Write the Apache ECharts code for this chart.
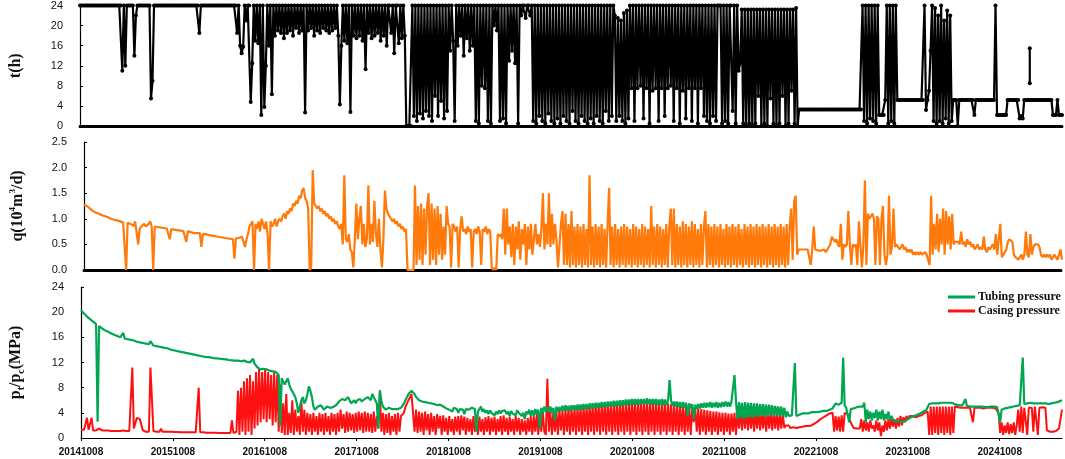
<!DOCTYPE html>
<html><head><meta charset="utf-8">
<script src="https://cdn.jsdelivr.net/npm/echarts@6/dist/echarts.min.js"></script>
<style>html,body{margin:0;padding:0;background:#fff}#c{width:1065px;height:459px}</style>
</head><body><div id="c"></div>
<script>
// sampling step of all series (days since 2014-10-08)
const STEP_DAYS = 6;
const xTickLabels = ['20141008','20151008','20161008','20171008','20181008','20191008','20201008','20211008','20221008','20231008','20241008'];

// t (h) - daily production time, one value per 6 days
const tHours = [
24,24,24,24,24,24,24,24,24,24,
24,24,24,24,24,24,24,24,24,24,
24,24,24,24,24,24,24,24,11,24,
12,24,24,24,24,24,14,22,24,24,
24,24,24,24,24,24,24,5.5,9,24,
24,24,24,24,24,24,24,24,24,24,
24,24,24,24,24,24,24,24,24,24,
24,24,24,24,24,24,24,24,24,18.5,
24,24,24,24,24,24,24,24,24,24,
24,24,24,24,24,24,24,24,24,24,
24,24,24,24,18.5,24,16,14.5,15.8,24,
21,24,24,4.8,12.5,24,17,24,16.5,24,
2.2,24,3.8,12,24,16,24,6.3,24,18,
24,19,24,18.5,24,17.5,24,18.5,24,19,
24,18,24,19.5,24,18.5,24,19,24,2.7,
24,19,24,19.5,24,18,24,19,24,18.5,
24,19.5,24,19,24,18.5,24,19,24,19.5,
24,18,4.3,16,24,17,24,16.5,24,2.8,
24,18,24,17.5,24,18,24,17,24,11.3,
24,18.5,24,17.5,24,18,24,18.5,24,17,
24,18,24,16,24,24,18.5,24,14.5,24,
24,16.5,24,17.5,24,18,0,0,0,0,
24,2,24,1,24,2.5,24,1.5,24,3,
24,2,24,1,24,6,24,2,24,5,
24,1.5,24,3,24,15,24,17,1,24,
16,24,18,24,14,24,17.5,24,15,24,
16,24,1,24,0.5,24,8,24,7.5,24,
1,24,0.5,24,20,24,19,24,1,24,
1.5,24,0.5,24,13,24,15,24,12.5,24,
0.5,24,22,24,24,21.5,24,24,22,24,
1,24,0.5,24,2,24,1,24,0.5,24,
2.5,24,1,24,0.5,24,1.5,24,0.5,24,
2,24,1,24,0.5,24,3,24,1,24,
0.5,24,2,24,1,24,0.5,24,1.5,24,
0.5,24,2,24,1,24,0.5,24,3,24,
1,24,2,24,22,1,21.5,2,21,1,
22.5,0.5,23,1.5,24,7.5,24,1,24,7.5,
24,8,24,1.5,24,7.5,24,0.5,24,7,
24,7.5,24,1,24,7.5,24,2,24,7.5,
24,8,24,1,24,7.5,24,0.5,24,7,
24,1.5,24,7.5,24,1,24,7.5,24,0.5,
24,7.5,24,2,24,1,24,0.5,24,2,
24,1,24,24,24,0.5,24,1,24,0.5,
24,24,3,24,0.5,24,11,12.5,23.2,0.5,
23.2,0,23.2,0.5,23.2,0,23.2,0.5,23.2,6,
23.2,0,23.2,0.5,23.2,0,23.2,5.5,23.2,0.5,
23.2,0,23.2,0.5,23.2,6,23.2,0,23.2,0.5,
23.2,7,23.2,0.5,23.5,0,3.3,3.3,3.3,3.3,
3.3,3.3,3.3,3.3,3.3,3.3,3.3,3.3,3.3,3.3,
3.3,3.3,3.3,3.3,3.3,3.3,3.3,3.3,3.3,3.3,
3.3,3.3,3.3,3.3,3.3,3.3,3.3,3.3,3.3,3.3,
3.3,3.3,3.3,3.3,3.3,3.3,3.3,3.3,24,1,
24,0.5,24,1.5,24,1,24,0.5,24,2.2,
2.2,2.2,2.2,5.2,24,0.5,24,1,24,0.5,
24,5.2,5.2,5.2,5.2,5.2,5.2,5.2,5.2,5.2,
5.2,5.2,5.2,5.2,5.2,5.2,5.2,5.2,5.2,24,
3.2,5.2,7,15,24,1,23.5,0.5,22,1,
24,0.5,21,1.5,23,0.5,22,1,5.2,5.2,
5.2,0,5.2,5.2,5.2,5.2,5.2,5.2,5.2,5.2,
5.2,5.2,2.2,5.2,5.2,5.2,5.2,5.2,5.2,5.2,
5.2,5.2,5.2,5.2,5.2,5.2,24,2.2,2.2,2.2,
2.2,2.2,2.2,2.2,5.2,5.2,5.2,5.2,5.2,5.2,
5.2,5.2,1.5,2,1.5,5.2,5.2,5.2,5.2,5.2,
5.2,5.2,5.2,5.2,5.2,5.2,5.2,5.2,5.2,5.2,
5.2,5.2,5.2,5.2,2.2,2.2,2.2,5.2,2.2,2.2,
2.2
];
// isolated short t record near 2025 ([day, h])
const tIsolated = [[3772,15.5],[3772,8.5]];

// q (10^4 m3/d)
const qFlow = [
1.27,1.26,1.25,1.22,1.2,1.18,1.15,1.13,1.12,1.11,
1.1,1.08,1.07,1.06,1.05,1.04,1.03,1.02,1.0,1.0,
0.98,0.97,0.97,0.96,0.95,0.94,0.93,0.93,0,0.92,
0.92,0.9,0.88,0.86,0.95,0.98,0.5,0.8,0.85,0.88,
0.9,0.85,0.82,0.9,0.95,0.85,0,0.85,0.84,0.84,
0.83,0.83,0.82,0.82,0.81,0.81,0.8,0.6,0.8,0.8,
0.79,0.79,0.78,0.78,0.77,0.77,0.76,0.76,0.55,0.76,
0.75,0.74,0.76,0.72,0.74,0.72,0.73,0.72,0.45,0.7,
0.7,0.7,0.69,0.68,0.68,0.67,0.66,0.66,0.65,0.65,
0.64,0.64,0.63,0.63,0.62,0.62,0.61,0.61,0.6,0.6,
0.22,0.62,0.6,0.63,0.6,0.65,0.55,0.45,0.6,0.7,
0.85,0.9,0.95,0,0.9,0.8,0.95,0.75,1.0,0.9,
0.8,0.95,0.7,0,0.95,0.85,0.9,1.0,0.85,0.95,
1.0,0.95,1.05,1.1,1.0,1.15,1.1,1.2,1.15,1.3,
1.25,1.35,1.3,1.45,1.4,1.55,1.6,1.4,1.35,1.2,
0,0.05,1.95,1.3,1.25,1.2,1.25,1.15,1.2,1.1,
1.15,1.05,1.1,1.0,1.05,0.95,1.0,0.9,0.95,0.85,
0.8,0.9,0.5,1.85,0.6,0.55,0.7,0.4,0.35,0.05,
0.6,1.3,0.6,1.0,1.25,0.5,0.9,0.45,0.6,1.65,
0.5,0.9,0.55,1.35,0.7,0.45,1.0,0.4,0.05,0.6,
1.55,1.2,1.1,1.05,1.0,0.95,1.0,0.9,0.95,0.85,
0.9,0.8,0.85,0.75,0.8,0,0,0,0,0,
1.65,0.1,1.25,0.2,1.3,0.1,1.2,0.3,1.25,1.5,
0.1,1.3,0.2,1.2,0.1,1.25,0.3,1.1,0.2,0.85,
0.3,1.25,0.9,0.85,0.05,0.9,0.85,0.75,0.85,0.05,
0.8,1.05,0.75,0.8,0.7,0.85,0.75,0.8,0.05,0.75,
0.8,0.7,0.85,0.75,0.1,0.8,0.75,0.85,0.7,0.8,
0.75,0.05,0,0.05,0,0.7,0.65,0.7,0.6,1.2,
0.3,1.2,0.5,0.85,0.25,0.9,0.1,0.85,0.4,0.95,
0.2,0.8,0.5,0.9,0.1,0.85,0.4,0.9,0.3,0.6,
0.9,0.5,0.7,0.45,0.8,1.5,0.4,0.9,0.5,1.5,
0.45,1.1,0.5,0.9,0.6,0.05,0.05,0.9,1.15,0.1,
1.1,0.1,0.9,0.05,1.15,0.1,0.85,0.05,0.9,0.1,
0.85,0.05,0.9,0.1,0.8,0.05,1.85,0.1,0.85,0.05,
0.9,0.1,0.85,0.05,0.9,0.1,0.8,0.05,0.9,1.6,
0.1,0.85,0.05,0.9,0.1,0.8,0.05,0.85,0.1,0.9,
0.05,0.85,0.1,0.8,0.05,0.9,0.1,0.85,0.05,0.8,
0.1,0.9,0.05,0.85,0.1,0.8,0.05,1.25,0.1,0.85,
0.05,0.9,0.1,0.85,0.05,0.8,0.1,0.9,0.05,0.85,
1.2,0.1,1.2,0.05,0.9,0.1,0.85,0.05,0.95,0.1,
0.9,0.05,0.85,0.1,0.95,0.05,0.9,0.1,0.8,0.05,
0.9,0.1,0.85,1.15,0.05,0.9,0.1,0.85,0.05,0.9,
0.1,0.85,0.05,0.9,0.1,0.8,0.05,0.9,0.1,0.85,
0.05,0.9,0.1,0.85,0.05,0.9,0.1,0.8,0.05,0.9,
0.1,0.85,0.05,0.9,0.1,0.85,0.05,0.9,0.1,0.85,
0.05,0.9,0.1,0.85,0.05,0.9,0.1,0.85,0.05,0.9,
0.1,0.85,0.05,0.9,0.1,0.85,0.05,0.9,0.1,0.85,
1.2,0.2,1.35,1.45,0.3,0.4,0.42,0.4,0.42,0.4,
0.42,0.4,0.42,0.1,0.4,0.85,0.4,0.42,0.38,0.4,
0.38,0.35,0.4,0.35,0.38,0.45,0.5,0.65,0.6,0.55,
0.6,0.5,0.45,0.9,0.2,0.5,0.45,0.5,1.15,0.5,
0.1,0.5,0.45,0.5,0.1,0.95,0.5,0.05,0.5,1.75,
0.1,1.1,1.0,1.05,1.1,1.0,0.1,1.05,1.0,0.1,
1.0,1.25,0.3,0.1,0.3,1.45,0.3,0.45,1.2,0.45,
0.5,0.45,0.4,0.45,0.5,0.4,0.45,0.35,0.4,0.35,
0.4,0.3,0.35,0.3,0.35,0.3,0.35,0.3,0.3,0.35,
0.3,0.3,0.1,1.45,0.3,0.9,0.4,1.1,0.35,1.0,
0.5,1.2,0.3,1.15,0.5,1.05,0.4,1.1,0.5,0.55,
0.55,0.55,0.5,0.75,0.5,0.55,0.45,0.6,0.5,0.55,
0.45,0.5,0.4,0.45,0.5,0.4,0.45,0.4,0.65,0.4,
0.35,0.45,0.4,0.45,0.5,0.4,0.7,0.3,0.3,0.9,
0.25,0.3,0.35,0.4,0.55,0.6,0.6,0.55,0.3,0.25,
0.25,0.2,0.25,0.3,0.2,0.3,0.75,0.3,0.25,0.7,
0.3,0.45,0.5,0.52,0.5,0.45,0.3,0.25,0.3,0.25,
0.3,0.25,0.3,0.2,0.25,0.3,0.25,0.2,0.3,0.4,
0.2
];

// tubing pressure (MPa)
const pTubing = [
20.3,20.0,19.8,19.5,19.3,19.1,18.9,18.7,18.5,18.3,
18.1,2.6,17.8,17.6,17.4,17.3,17.1,17.0,16.9,16.8,
16.6,16.5,16.4,16.3,16.2,16.1,16.0,15.9,16.7,15.8,
15.8,15.7,15.6,15.6,15.5,15.5,15.8,15.3,15.3,15.2,
15.2,15.1,15.0,15.0,14.9,14.9,15.4,15.3,14.7,14.7,
14.6,14.6,14.5,14.5,14.4,14.3,14.3,14.2,14.2,14.1,
14.0,14.0,13.9,13.9,13.8,13.8,13.7,13.7,13.6,13.6,
13.5,13.5,13.4,13.4,13.3,13.3,13.2,13.2,13.1,13.1,
13.0,13.0,12.9,12.9,12.85,12.85,12.8,12.8,12.7,12.7,
12.65,12.65,12.6,12.6,12.55,12.55,12.5,12.5,12.4,12.4,
12.35,12.35,12.3,12.3,12.3,12.25,12.2,12.2,12.3,12.2,
12.1,12.1,12.0,12.0,12.6,11.8,11.5,11.2,11.0,10.9,
11.2,11.0,10.8,10.9,11.0,10.7,10.8,10.6,10.6,10.5,
10.5,10.0,2.0,9.5,9.0,8.5,8.8,9.5,8.5,7.8,
7.5,7.0,6.5,5.5,4.0,5.0,6.0,6.5,5.5,6.0,
7.0,8.2,7.5,6.5,5.0,4.5,4.8,5.0,4.8,5.2,
5.0,4.5,4.8,5.0,4.7,4.8,5.0,4.9,5.0,5.2,
5.5,5.8,6.0,6.2,6.3,6.0,6.2,6.5,6.0,5.5,
5.8,6.0,5.5,6.0,5.8,6.2,5.8,6.0,6.2,6.0,
6.5,6.2,6.0,7.0,6.5,6.0,5.5,1.5,7.6,6.0,
5.0,4.8,4.5,4.6,4.8,4.5,4.6,4.4,4.6,4.8,
4.6,4.7,4.8,5.0,5.5,6.0,6.5,7.0,7.3,7.5,
7.5,7.0,6.5,6.2,6.0,6.0,5.8,5.9,5.7,5.8,
5.6,5.7,5.5,5.6,5.4,5.5,5.2,5.4,5.3,5.2,
5.0,5.2,4.7,5.0,4.5,4.8,4.2,4.8,4.5,4.6,
4.0,4.6,4.3,4.5,3.8,4.6,4.3,4.5,4.2,4.8,
4.5,4.6,1.0,4.2,4.0,5.0,4.2,4.6,4.0,4.4,
3.8,4.4,4.0,4.3,3.6,4.2,3.8,4.4,3.9,4.3,
4.0,4.4,3.8,4.2,3.5,4.3,3.9,4.2,3.6,4.4,
4.0,4.2,3.5,4.0,3.0,4.2,3.8,4.5,3.5,4.4,
3.5,4.6,3.8,4.5,1.5,4.8,3.8,5.0,4.2,4.9,
4.2,5.0,4.0,4.8,2.8,5.0,4.2,4.9,4.3,5.1,
4.3,5.2,4.4,5.1,4.3,5.2,4.5,5.2,4.4,5.3,
4.5,5.3,4.5,5.4,4.6,5.4,4.6,5.5,4.7,5.5,
4.7,5.6,4.8,5.6,4.8,5.7,4.9,5.7,4.9,5.8,
5.0,5.8,5.0,5.9,5.0,5.9,5.1,6.0,5.1,6.0,
5.2,6.1,5.2,6.1,5.2,6.2,5.3,6.2,5.3,6.2,
5.3,6.2,5.4,6.2,5.4,6.3,5.4,6.2,5.3,6.2,
5.3,6.2,5.2,6.1,5.3,6.2,5.2,6.1,5.2,6.0,
9.2,5.9,5.1,5.8,5.0,5.8,4.9,5.7,4.8,5.7,
4.8,5.6,3.5,5.5,4.7,5.4,3.0,5.3,4.6,5.4,
4.7,5.5,4.8,5.6,4.8,5.6,4.9,5.7,4.8,5.6,
4.9,5.7,4.8,5.6,4.9,5.7,5.0,5.8,5.0,5.7,
5.0,5.8,5.8,10.0,5.8,3.0,5.7,3.2,5.6,3.0,
5.7,3.2,5.6,3.3,5.6,3.2,5.5,3.4,5.5,3.3,
5.4,3.5,5.4,3.4,5.3,3.5,5.3,3.6,5.2,3.5,
5.1,3.6,5.0,3.5,5.0,3.4,4.8,3.3,4.2,3.5,
3.8,3.6,3.7,11.9,3.5,3.8,3.7,3.8,3.9,3.8,
3.9,4.0,3.9,4.0,4.1,4.0,4.1,4.2,4.1,4.2,
4.2,4.3,4.3,4.4,4.3,4.4,4.5,4.6,4.7,4.8,
5.5,5.4,5.3,5.5,5.6,12.8,5.2,4.8,5.0,2.5,
4.6,4.8,4.7,5.0,4.9,4.8,5.0,4.9,5.0,5.6,
2.5,4.5,3.0,4.2,2.8,4.0,3.2,4.5,2.8,4.2,
3.0,4.5,2.8,3.8,3.0,4.2,2.8,3.5,2.9,3.0,
2.6,2.8,2.6,2.7,2.6,2.8,2.7,2.9,3.0,3.2,
3.3,3.4,3.5,3.6,3.7,3.8,3.9,4.0,4.2,4.3,
4.4,4.5,5.4,5.5,5.5,5.6,5.5,5.6,5.5,5.6,
5.6,5.7,5.6,5.7,5.6,5.7,5.6,5.6,5.5,5.3,
5.3,5.2,5.2,5.1,5.2,5.5,6.2,5.1,5.1,5.0,
5.0,5.0,5.0,5.0,4.9,5.0,4.9,5.0,5.0,4.9,
5.0,4.9,5.0,5.0,5.0,5.0,5.0,4.9,5.0,2.5,
4.5,4.6,4.7,4.8,4.8,4.9,4.9,5.0,5.0,5.1,
5.1,5.0,5.2,5.0,12.8,5.4,5.5,5.5,5.5,5.6,
5.5,5.5,5.6,5.5,5.5,5.5,5.6,5.5,5.5,5.5,
5.5,5.4,5.5,5.5,5.5,5.6,5.6,5.7,5.8,5.9,
6.0
];

// casing pressure (MPa)
const pCasing = [
1.3,1.3,1.3,1.3,3.2,1.3,1.2,3.2,1.2,1.2,
1.2,1.2,1.5,1.2,1.2,1.3,1.2,1.1,1.2,1.1,
1.1,1.1,1.1,1.1,1.1,1.1,1.1,1.1,1.2,1.1,
1.1,1.1,1.1,1.1,11.2,1.5,1.2,3.2,3.3,3.0,
2.8,1.2,1.1,1.0,1.0,1.0,11.2,11.0,1.1,1.0,
1.0,1.0,1.0,1.5,1.0,1.0,1.0,1.0,1.0,1.0,
1.0,0.95,0.95,0.95,0.95,0.95,0.9,0.9,0.9,0.9,
0.9,0.9,0.9,0.9,0.9,0.9,0.9,0.9,8.0,0.9,
0.9,0.9,0.85,0.85,0.85,0.85,0.85,0.85,0.85,0.85,
0.85,0.8,0.8,0.8,0.8,0.8,0.8,0.8,0.8,0.8,
2.8,0.8,0.8,1.0,7.5,0.5,8.0,1.0,9.0,0.5,
9.5,1.0,10.0,0.5,9.0,1.5,10.5,2.0,11.0,2.5,
10.5,3.0,11.0,2.5,10.5,3.0,10.0,2.0,10.5,2.5,
10.0,1.0,8.5,0.8,5.5,0.5,7.0,0.5,4.0,0.8,
6.0,0.5,4.5,1.0,3.5,0.5,6.0,1.0,4.5,0.5,
4.0,1.0,3.8,0.5,4.0,1.0,3.5,0.5,4.0,1.0,
3.8,0.5,4.0,1.0,3.5,0.5,4.0,1.0,3.8,0.5,
4.0,1.0,4.5,1.5,3.8,0.8,4.2,1.0,4.0,1.2,
3.8,0.8,4.0,1.0,4.2,1.2,4.0,0.8,4.2,1.0,
4.0,1.0,3.8,0.8,4.2,1.0,3.5,1.5,7.2,1.0,
4.0,0.5,3.8,0.8,4.0,0.5,3.5,1.0,3.8,0.5,
4.0,1.0,3.5,3.5,4.0,5.0,5.5,6.0,6.5,7.0,
7.0,1.0,4.5,0.8,4.2,1.0,4.0,0.5,4.2,1.2,
3.8,0.5,4.0,1.0,3.5,0.5,3.8,1.5,3.5,0.5,
3.6,1.0,3.2,0.5,3.5,1.0,3.0,0.5,3.4,1.0,
3.5,0.5,3.6,1.2,3.4,0.5,3.2,1.0,3.0,0.5,
3.5,1.0,3.2,0.5,3.4,1.0,3.0,0.5,3.3,1.0,
3.5,0.5,3.2,1.0,3.4,0.5,3.0,1.0,3.5,0.5,
3.6,1.0,3.2,0.5,3.4,1.0,3.0,0.5,3.5,1.0,
3.2,0.5,3.0,1.0,2.8,0.5,3.2,1.0,3.5,0.5,
3.5,1.0,3.8,0.5,4.0,1.0,4.2,1.0,0.5,9.4,
1.0,4.2,0.5,4.4,1.0,4.4,0.5,4.5,1.2,4.4,
0.5,4.6,1.0,4.7,0.5,4.8,1.0,4.8,0.5,4.9,
1.0,5.0,0.5,5.0,1.0,5.1,0.5,5.2,1.0,5.2,
0.5,5.3,1.0,5.3,0.5,5.4,1.0,5.4,0.5,5.5,
1.0,5.5,0.5,5.5,1.0,5.6,0.5,5.6,1.0,5.6,
0.5,5.6,1.0,5.7,0.5,5.7,1.0,5.7,0.5,5.7,
1.0,5.8,0.5,5.8,1.0,5.8,0.5,5.7,1.0,5.7,
0.5,5.7,1.0,5.6,0.5,5.6,1.0,5.5,0.5,5.5,
1.0,5.4,0.5,5.3,1.0,5.3,0.5,5.2,1.0,5.2,
0.5,5.1,1.0,5.0,0.5,4.9,2.5,4.8,1.0,4.7,
0.5,4.6,1.0,4.5,0.5,4.4,1.0,4.3,0.5,4.2,
1.0,4.2,0.5,4.1,1.0,4.0,0.5,4.0,1.0,3.9,
0.5,3.9,1.0,4.0,0.5,4.5,1.5,4.6,1.2,4.5,
1.5,4.6,1.2,4.5,1.5,4.5,1.0,4.4,1.5,4.4,
1.2,4.3,1.5,4.3,1.0,4.2,1.5,4.2,1.2,4.1,
1.5,4.0,1.2,4.0,1.5,3.9,1.6,2.0,1.8,2.0,
1.6,1.8,1.7,1.8,1.6,1.8,1.7,1.9,1.8,2.0,
1.9,2.0,1.9,2.1,2.0,2.2,2.3,2.5,2.6,2.8,
3.0,3.2,3.3,3.5,3.6,3.8,3.9,4.0,4.0,1.0,
3.5,1.2,3.4,1.0,3.6,1.0,4.0,4.0,3.8,3.5,
2.5,2.0,1.6,1.5,1.5,1.6,1.5,3.0,1.0,2.8,
1.2,2.5,1.0,2.8,1.5,2.0,1.0,2.8,1.2,2.5,
0.3,2.0,1.0,2.8,1.2,3.0,1.5,3.2,1.8,3.0,
1.5,3.2,1.8,3.5,2.0,3.3,2.5,3.5,3.0,3.5,
3.3,3.5,3.5,3.3,3.6,3.5,3.8,3.6,3.8,4.0,
4.0,4.2,0.5,5.0,0.5,5.0,0.8,5.0,0.5,5.0,
0.8,5.0,0.5,5.0,0.8,5.0,0.5,5.0,0.8,5.0,
4.8,4.9,4.8,4.8,4.7,4.8,4.8,4.8,4.7,4.8,
4.7,2.5,4.8,4.7,4.8,4.7,4.8,4.8,4.7,4.8,
4.8,4.7,4.8,4.7,4.8,4.8,4.7,4.8,4.0,0.8,
2.5,0.5,2.0,0.8,2.5,0.6,2.2,0.8,2.5,0.5,
2.0,4.5,1.0,5.0,0.8,4.8,5.0,0.5,4.8,5.0,
4.8,1.0,5.0,4.9,0.5,4.8,5.0,4.9,5.0,4.8,
1.2,1.0,1.0,1.1,1.0,1.2,1.1,1.0,1.5,3.0,
4.5
];

const toPairs = arr => arr.map((v, i) => [i * STEP_DAYS, v]);
const X_MAX = 3900, YEAR = 365.25;
const tickFont = {fontFamily: 'Liberation Sans', fontSize: 11, color: '#111'};
const nameFont = {fontFamily: 'Liberation Serif', fontWeight: 'bold', fontSize: 16, color: '#111'};

function xAxisTop(gi) {
  return {
    type: 'value', gridIndex: gi, min: 0, max: X_MAX, interval: YEAR,
    axisLine: {show: true, lineStyle: {color: '#000', width: 3, type: [2, 1]}},
    axisTick: {show: false}, axisLabel: {show: false}, splitLine: {show: false}
  };
}
function yAxis(gi, max, interval, name, gap, fmt) {
  return {
    type: 'value', gridIndex: gi, min: 0, max: max, interval: interval,
    name: name, nameLocation: 'middle', nameRotate: 90, nameGap: gap,
    nameTextStyle: Object.assign({}, nameFont, {
      rich: {
        n: {fontFamily: 'Liberation Serif', fontWeight: 'bold', fontSize: 16, color: '#111', lineHeight: 20, verticalAlign: 'middle'},
        sup: {fontFamily: 'Liberation Serif', fontWeight: 'bold', fontSize: 9, color: '#111', verticalAlign: 'top', lineHeight: 20},
        sub: {fontFamily: 'Liberation Serif', fontWeight: 'bold', fontSize: 10, color: '#111', verticalAlign: 'bottom', lineHeight: 18}
      }
    }),
    axisLine: {show: true, lineStyle: {color: '#000', width: 1.2}},
    axisTick: {show: true, inside: true, length: 3, lineStyle: {color: '#000'}},
    axisLabel: Object.assign({margin: 17, formatter: fmt}, tickFont),
    splitLine: {show: false}
  };
}

const chart = echarts.init(document.getElementById('c'), null, {renderer: 'canvas'});
chart.setOption({
  animation: false,
  backgroundColor: '#fff',
  grid: [
    {left: 76, right: 3, top: 5, height: 121},
    {left: 76, right: 3, top: 142, height: 128},
    {left: 76, right: 3, top: 287, height: 151}
  ],
  legend: {
    data: ['Tubing pressure', 'Casing pressure'],
    orient: 'vertical', left: 943, top: 286, itemGap: 2,
    itemWidth: 27, itemHeight: 3, icon: 'rect',
    textStyle: {fontFamily: 'Liberation Serif', fontWeight: 'bold', fontSize: 12, color: '#111', padding: [0, 0, 0, -2]}
  },
  xAxis: [
    xAxisTop(0),
    xAxisTop(1),
    {
      type: 'value', gridIndex: 2, min: 0, max: X_MAX, interval: YEAR,
      axisLine: {show: true, lineStyle: {color: '#000', width: 1.2}},
      axisTick: {show: true, length: 3, lineStyle: {color: '#000'}},
      axisLabel: {
        margin: 9, showMaxLabel: false,
        fontFamily: 'Liberation Sans', fontWeight: 'bold', fontSize: 10, color: '#111',
        formatter: v => xTickLabels[Math.round(v / YEAR)] || ''
      },
      splitLine: {show: false}
    }
  ],
  yAxis: [
    yAxis(0, 24, 4, 't(h)', 56, v => String(v)),
    yAxis(1, 2.5, 0.5, '{n|q(10}{sup|4}{n|m}{sup|3}{n|/d)}', 56, v => v.toFixed(1)),
    yAxis(2, 24, 4, '{n|p}{sub|t}{n|/p}{sub|c}{n|(MPa)}', 55, v => String(v))
  ],
  series: [
    {
      type: 'line', xAxisIndex: 0, yAxisIndex: 0, data: toPairs(tHours),
      symbol: 'circle', symbolSize: 4, showSymbol: true,
      itemStyle: {color: '#000'}, lineStyle: {color: '#000', width: 2.2}, z: 3
    },
    {
      type: 'line', xAxisIndex: 0, yAxisIndex: 0, data: tIsolated,
      symbol: 'circle', symbolSize: 4,
      itemStyle: {color: '#000'}, lineStyle: {color: '#000', width: 2.2}, z: 3
    },
    {
      type: 'line', xAxisIndex: 1, yAxisIndex: 1, data: toPairs(qFlow),
      showSymbol: false, lineStyle: {color: '#ff7a0a', width: 2.2}, itemStyle: {color: '#ff7a0a'}, z: 3
    },
    {
      name: 'Casing pressure', type: 'line', xAxisIndex: 2, yAxisIndex: 2, data: toPairs(pCasing),
      showSymbol: false, lineStyle: {color: '#ff1010', width: 2}, itemStyle: {color: '#ff1010'}, z: 3
    },
    {
      name: 'Tubing pressure', type: 'line', xAxisIndex: 2, yAxisIndex: 2, data: toPairs(pTubing),
      showSymbol: false, lineStyle: {color: '#00a651', width: 2.2}, itemStyle: {color: '#00a651'}, z: 4
    }
  ]
});
</script>
</body></html>
